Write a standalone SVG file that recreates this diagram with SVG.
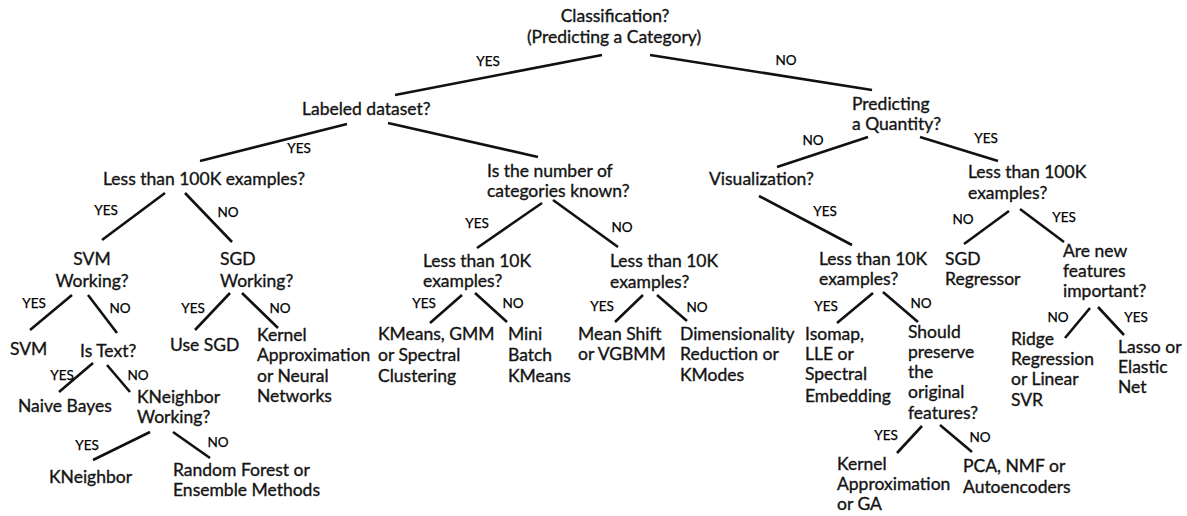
<svg xmlns="http://www.w3.org/2000/svg" width="1187" height="516" viewBox="0 0 1187 516">
<style>
.t{font-family:Lato,"Open Sans","Liberation Sans",sans-serif;font-size:17.5px;fill:#141414;stroke:#141414;stroke-width:0.35}
.c{text-anchor:middle}
.l{font-family:Lato,"Open Sans","Liberation Sans",sans-serif;font-size:13.5px;fill:#000;stroke:#000;stroke-width:0.25;text-anchor:middle}
.e line{stroke:#111;stroke-width:2.6;stroke-linecap:butt}
</style>
<rect width="1187" height="516" fill="#fff"/>
<g id="connectors" class="e">
<line x1="602" y1="55" x2="395" y2="95"/>
<line x1="650" y1="55" x2="872" y2="90"/>
<line x1="347" y1="124" x2="200" y2="161"/>
<line x1="388" y1="123" x2="538" y2="157"/>
<line x1="165" y1="193" x2="102" y2="240"/>
<line x1="185" y1="193" x2="232" y2="242"/>
<line x1="72" y1="295" x2="30" y2="330"/>
<line x1="88" y1="295" x2="117" y2="333"/>
<line x1="230" y1="293" x2="195" y2="330"/>
<line x1="242" y1="293" x2="278" y2="328"/>
<line x1="93" y1="363" x2="59" y2="392"/>
<line x1="107" y1="365" x2="130" y2="392"/>
<line x1="150" y1="432" x2="93" y2="460"/>
<line x1="173" y1="432" x2="210" y2="458"/>
<line x1="542" y1="203" x2="477" y2="248"/>
<line x1="553" y1="200" x2="618" y2="247"/>
<line x1="462" y1="295" x2="430" y2="323"/>
<line x1="475" y1="293" x2="507" y2="322"/>
<line x1="643" y1="295" x2="615" y2="322"/>
<line x1="657" y1="295" x2="687" y2="321"/>
<line x1="868" y1="137" x2="777" y2="167"/>
<line x1="920" y1="137" x2="998" y2="161"/>
<line x1="759" y1="196" x2="852" y2="245"/>
<line x1="1009" y1="211" x2="964" y2="244"/>
<line x1="1020" y1="209" x2="1064" y2="242"/>
<line x1="873" y1="293" x2="837" y2="323"/>
<line x1="883" y1="292" x2="918" y2="322"/>
<line x1="922" y1="426" x2="897" y2="453"/>
<line x1="940" y1="425" x2="972" y2="452"/>
<line x1="1090" y1="308" x2="1065" y2="338"/>
<line x1="1098" y1="307" x2="1124" y2="335"/>
<g id="edge-labels">
<text class="l" x="488" y="66">YES</text>
<text class="l" x="786" y="65">NO</text>
<text class="l" x="299" y="153">YES</text>
<text class="l" x="106" y="215">YES</text>
<text class="l" x="228" y="217">NO</text>
<text class="l" x="34" y="308">YES</text>
<text class="l" x="120" y="313">NO</text>
<text class="l" x="193" y="313">YES</text>
<text class="l" x="280" y="313">NO</text>
<text class="l" x="62" y="380">YES</text>
<text class="l" x="138" y="380">NO</text>
<text class="l" x="87" y="450">YES</text>
<text class="l" x="218" y="447">NO</text>
<text class="l" x="477" y="228">YES</text>
<text class="l" x="622" y="232">NO</text>
<text class="l" x="424" y="308">YES</text>
<text class="l" x="513" y="308">NO</text>
<text class="l" x="602" y="311">YES</text>
<text class="l" x="697" y="312">NO</text>
<text class="l" x="813" y="145">NO</text>
<text class="l" x="986" y="143">YES</text>
<text class="l" x="825" y="216">YES</text>
<text class="l" x="963" y="224">NO</text>
<text class="l" x="1064" y="222">YES</text>
<text class="l" x="826" y="311">YES</text>
<text class="l" x="921" y="308">NO</text>
<text class="l" x="886" y="440">YES</text>
<text class="l" x="980" y="442">NO</text>
<text class="l" x="1058" y="322">NO</text>
<text class="l" x="1136" y="322">YES</text>
</g>
</g>
<g id="n-root"><text class="t c" x="615" y="22">Classification?</text><text class="t c" x="614" y="43">(Predicting a Category)</text></g>
<g id="n-labeled"><text class="t" x="302" y="115">Labeled dataset?</text></g>
<g id="n-quantity"><text class="t" x="852" y="110">Predicting</text><text class="t" x="852" y="130">a Quantity?</text></g>
<g id="n-100k"><text class="t" x="103" y="185">Less than 100K examples?</text></g>
<g id="n-categories"><text class="t" x="487" y="177">Is the number of</text><text class="t" x="487" y="197">categories known?</text></g>
<g id="n-visual"><text class="t" x="709" y="185">Visualization?</text></g>
<g id="n-100k-r"><text class="t" x="968" y="178">Less than 100K</text><text class="t" x="968" y="199">examples?</text></g>
<g id="n-svm-w"><text class="t c" x="92" y="265">SVM</text><text class="t c" x="92" y="287">Working?</text></g>
<g id="n-sgd-w"><text class="t" x="220" y="265">SGD</text><text class="t" x="220" y="287">Working?</text></g>
<g id="n-10k-a"><text class="t" x="423" y="267">Less than 10K</text><text class="t" x="423" y="287">examples?</text></g>
<g id="n-10k-b"><text class="t" x="610" y="267">Less than 10K</text><text class="t" x="610" y="288">examples?</text></g>
<g id="n-10k-c"><text class="t" x="819" y="265">Less than 10K</text><text class="t" x="819" y="285">examples?</text></g>
<g id="n-sgdreg"><text class="t" x="945" y="265">SGD</text><text class="t" x="945" y="285">Regressor</text></g>
<g id="n-newfeat"><text class="t" x="1063" y="257">Are new</text><text class="t" x="1063" y="277">features</text><text class="t" x="1063" y="297">important?</text></g>
<g id="n-svm"><text class="t" x="10" y="355">SVM</text></g>
<g id="n-istext"><text class="t" x="80" y="357">Is Text?</text></g>
<g id="n-usesgd"><text class="t" x="170" y="351">Use SGD</text></g>
<g id="n-kernel-nn"><text class="t" x="257" y="341">Kernel</text><text class="t" x="257" y="361">Approximation</text><text class="t" x="257" y="382">or Neural</text><text class="t" x="257" y="402">Networks</text></g>
<g id="n-kmeans"><text class="t" x="378" y="340">KMeans, GMM</text><text class="t" x="378" y="361">or Spectral</text><text class="t" x="378" y="382">Clustering</text></g>
<g id="n-minibatch"><text class="t" x="508" y="340">Mini</text><text class="t" x="508" y="361">Batch</text><text class="t" x="508" y="382">KMeans</text></g>
<g id="n-meanshift"><text class="t" x="578" y="340">Mean Shift</text><text class="t" x="578" y="360">or VGBMM</text></g>
<g id="n-dimred"><text class="t" x="680" y="340">Dimensionality</text><text class="t" x="680" y="360">Reduction or</text><text class="t" x="680" y="381">KModes</text></g>
<g id="n-isomap"><text class="t" x="805" y="340">Isomap,</text><text class="t" x="805" y="360">LLE or</text><text class="t" x="805" y="380">Spectral</text><text class="t" x="805" y="402">Embedding</text></g>
<g id="n-preserve"><text class="t" x="908" y="338">Should</text><text class="t" x="908" y="358">preserve</text><text class="t" x="908" y="378">the</text><text class="t" x="908" y="398">original</text><text class="t" x="908" y="419">features?</text></g>
<g id="n-ridge"><text class="t" x="1011" y="345">Ridge</text><text class="t" x="1011" y="365">Regression</text><text class="t" x="1011" y="385">or Linear</text><text class="t" x="1011" y="406">SVR</text></g>
<g id="n-lasso"><text class="t" x="1118" y="353">Lasso or</text><text class="t" x="1118" y="373">Elastic</text><text class="t" x="1118" y="393">Net</text></g>
<g id="n-naive"><text class="t" x="18" y="412">Naive Bayes</text></g>
<g id="n-kn-w"><text class="t" x="137" y="403">KNeighbor</text><text class="t" x="137" y="423">Working?</text></g>
<g id="n-kn"><text class="t" x="49" y="483">KNeighbor</text></g>
<g id="n-rf"><text class="t" x="173" y="476">Random Forest or</text><text class="t" x="173" y="496">Ensemble Methods</text></g>
<g id="n-kernel-ga"><text class="t" x="837" y="470">Kernel</text><text class="t" x="837" y="490">Approximation</text><text class="t" x="837" y="510">or GA</text></g>
<g id="n-pca"><text class="t" x="963" y="472">PCA, NMF or</text><text class="t" x="963" y="493">Autoencoders</text></g>
</svg>
